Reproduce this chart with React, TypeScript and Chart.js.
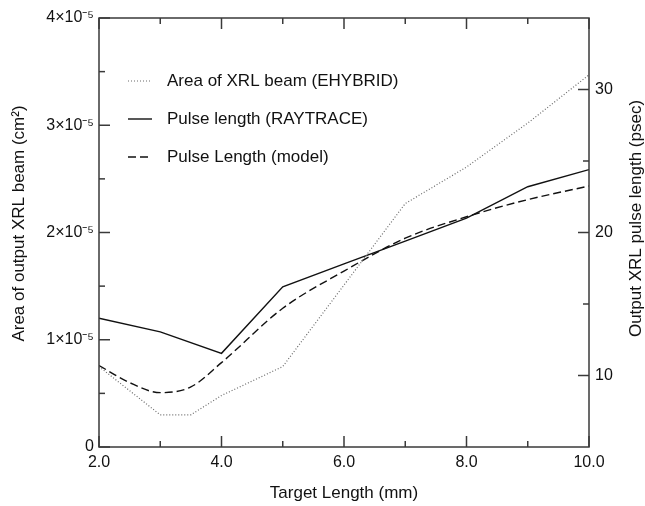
import React, { useEffect, useRef } from 'react';
import { Chart, registerables } from 'chart.js';

Chart.register(...registerables);

// ---- data ----
const areaX = [2, 3, 3.5, 4, 5, 6, 7, 8, 9, 10];
const areaCm2 = [0.75e-5, 0.3e-5, 0.3e-5, 0.48e-5, 0.75e-5, 1.51e-5, 2.27e-5, 2.61e-5, 3.02e-5, 3.47e-5];

const raytraceX = [2, 3, 4, 5, 6, 7, 8, 9, 10];
const raytracePsec = [14.0, 13.05, 11.55, 16.2, 17.8, 19.4, 21.0, 23.2, 24.4];

const modelX = [2, 2.5, 3, 3.5, 4, 5, 6, 7, 8, 9, 10];
const modelPsec = [10.7, 9.5, 8.8, 9.2, 10.9, 14.7, 17.3, 19.6, 21.1, 22.3, 23.25];

const seriesLabels = ['Area of XRL beam (EHYBRID)', 'Pulse length (RAYTRACE)', 'Pulse Length (model)'];

const xMajorTicks = [2, 4, 6, 8, 10];
const xMinorTicks = [3, 5, 7, 9];
const areaMajorTicks = [0, 1e-5, 2e-5, 3e-5, 4e-5];
const areaMinorTicks = [0.5e-5, 1.5e-5, 2.5e-5, 3.5e-5];
const psecMajorTicks = [10, 20, 30];
const psecMinorTicks = [15, 25];

const xTitle = 'Target Length (mm)';
const leftTitle = 'Area of output XRL beam (cm²)';
const rightTitle = 'Output XRL pulse length (psec)';

const FONT = '"Liberation Sans", Arial, Helvetica, sans-serif';

const toPts = (xs: number[], ys: number[]) => xs.map((x, i) => ({ x, y: ys[i] }));

const areaLabel = (v: number) => (v === 0 ? '0' : `${Math.round(v / 1e-5)}×10⁻⁵`);

const framePlugin = {
  id: 'framePlugin',
  afterDatasetsDraw(chart: any) {
    const { ctx, chartArea: a, scales } = chart;
    ctx.save();
    // frame
    ctx.strokeStyle = '#3a3a3a';
    ctx.lineWidth = 1.5;
    ctx.strokeRect(a.left, a.top, a.right - a.left, a.bottom - a.top);
    const line = (x1: number, y1: number, x2: number, y2: number) => {
      ctx.beginPath();
      ctx.moveTo(x1, y1);
      ctx.lineTo(x2, y2);
      ctx.stroke();
    };
    const MAJ = 11;
    const MIN = 6;
    const xt = (vals: number[], len: number) =>
      vals.forEach((v) => {
        const px = scales.x.getPixelForValue(v);
        line(px, a.bottom, px, a.bottom - len);
        line(px, a.top, px, a.top + len);
      });
    xt(xMajorTicks, MAJ);
    xt(xMinorTicks, MIN);
    const lt = (vals: number[], len: number) =>
      vals.forEach((v) => {
        const py = scales.y.getPixelForValue(v);
        line(a.left, py, a.left + len, py);
      });
    lt(areaMajorTicks, MAJ);
    lt(areaMinorTicks, MIN);
    const rt = (vals: number[], len: number) =>
      vals.forEach((v) => {
        const py = scales.y2.getPixelForValue(v);
        line(a.right, py, a.right - len, py);
      });
    rt(psecMajorTicks, MAJ);
    rt(psecMinorTicks, MIN);

    // legend
    const rowTop = a.top + 63;
    const rowGap = 38;
    chart.data.datasets.forEach((ds: any, i: number) => {
      const y = rowTop + i * rowGap;
      ctx.save();
      ctx.strokeStyle = ds.borderColor;
      ctx.lineWidth = ds.borderWidth;
      ctx.setLineDash(ds.borderDash || []);
      line(a.left + 29, y, a.left + 53, y);
      ctx.restore();
      ctx.fillStyle = '#111';
      ctx.font = `17px ${FONT}`;
      ctx.textBaseline = 'middle';
      ctx.textAlign = 'left';
      ctx.fillText(ds.label, a.left + 68, y);
    });

    // axis titles
    ctx.fillStyle = '#111';
    ctx.font = `17px ${FONT}`;
    ctx.textAlign = 'center';
    ctx.textBaseline = 'middle';
    ctx.fillText(xTitle, (a.left + a.right) / 2, chart.height - 13);
    const mid = (a.top + a.bottom) / 2;
    ctx.save();
    ctx.translate(19, mid - 9);
    ctx.rotate(-Math.PI / 2);
    ctx.fillText(leftTitle, 0, 0);
    ctx.restore();
    ctx.save();
    ctx.translate(chart.width - 9, mid - 14);
    ctx.rotate(-Math.PI / 2);
    ctx.fillText(rightTitle, 0, 0);
    ctx.restore();
    ctx.restore();
  },
};

export default function App() {
  const ref = useRef<HTMLCanvasElement>(null);
  useEffect(() => {
    document.body.style.margin = '0';
    const tickFont = { family: FONT, size: 16 };
    const chart = new Chart(ref.current as HTMLCanvasElement, {
      type: 'line',
      data: {
        datasets: [
          {
            label: seriesLabels[0],
            data: toPts(areaX, areaCm2),
            yAxisID: 'y',
            borderColor: '#6a6a6a',
            borderWidth: 1.2,
            borderDash: [1, 2],
            pointRadius: 0,
            fill: false,
          },
          {
            label: seriesLabels[1],
            data: toPts(raytraceX, raytracePsec),
            yAxisID: 'y2',
            borderColor: '#111',
            borderWidth: 1.4,
            borderDash: [],
            pointRadius: 0,
            fill: false,
          },
          {
            label: seriesLabels[2],
            data: toPts(modelX, modelPsec),
            yAxisID: 'y2',
            borderColor: '#111',
            borderWidth: 1.4,
            borderDash: [8, 4],
            pointRadius: 0,
            cubicInterpolationMode: 'monotone',
            fill: false,
          },
        ],
      },
      options: {
        responsive: false,
        animation: false,
        layout: { padding: { top: 18, left: 0, right: 0, bottom: 0 } },
        plugins: { legend: { display: false }, tooltip: { enabled: false } },
        scales: {
          x: {
            type: 'linear',
            min: 2,
            max: 10,
            grid: { display: false, drawTicks: false },
            border: { display: false },
            afterBuildTicks: (s: any) => {
              s.ticks = xMajorTicks.map((value) => ({ value }));
            },
            afterFit: (s: any) => {
              s.height = 59;
            },
            ticks: {
              font: tickFont,
              color: '#111',
              padding: 6,
              maxRotation: 0,
              autoSkip: false,
              callback: (v: any) => Number(v).toFixed(1),
            },
          },
          y: {
            type: 'linear',
            position: 'left',
            min: 0,
            max: 4e-5,
            grid: { display: false, drawTicks: false },
            border: { display: false },
            afterBuildTicks: (s: any) => {
              s.ticks = areaMajorTicks.map((value) => ({ value }));
            },
            afterFit: (s: any) => {
              s.width = 99;
            },
            ticks: {
              font: tickFont,
              color: '#111',
              padding: 5,
              autoSkip: false,
              callback: (v: any) => areaLabel(Number(v)),
            },
          },
          y2: {
            type: 'linear',
            position: 'right',
            min: 5,
            max: 35,
            grid: { display: false, drawTicks: false },
            border: { display: false },
            afterBuildTicks: (s: any) => {
              s.ticks = psecMajorTicks.map((value) => ({ value }));
            },
            afterFit: (s: any) => {
              s.width = 56;
            },
            ticks: {
              font: tickFont,
              color: '#111',
              padding: 6,
              autoSkip: false,
              callback: (v: any) => String(v),
            },
          },
        },
      },
      plugins: [framePlugin],
    } as any);
    return () => chart.destroy();
  }, []);
  return (
    <div style={{ width: 645, height: 506 }}>
      <canvas ref={ref} width={645} height={506} style={{ display: 'block' }} />
    </div>
  );
}
